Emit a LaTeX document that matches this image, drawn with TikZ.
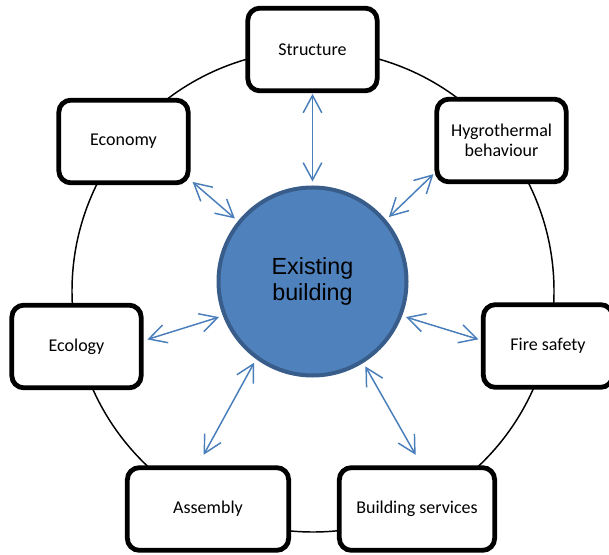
\documentclass[tikz,border=0pt]{standalone}
\usepackage{fontspec}
\setmainfont{Carlito}
\newfontfamily\hubfont{Liberation Sans}
\usetikzlibrary{arrows.meta}
\definecolor{hubblue}{HTML}{4F81BD}
\definecolor{hubedge}{HTML}{385D8A}
\definecolor{spokeblue}{HTML}{4A7EBB}
\begin{document}
\begin{tikzpicture}[x=0.75pt, y=-0.75pt,
	aspect/.style={draw, line width=3.6pt, rounded corners=9pt, fill=white, align=center,
		minimum width=97pt, minimum height=62pt, font=\fontsize{13.5}{15}\selectfont},
	hub/.style={draw=hubedge, line width=3pt, fill=hubblue, circle, inner sep=0pt,
		minimum size=141pt, align=center, font=\hubfont\fontsize{17.5}{19.5}\selectfont},
	spoke/.style={draw=spokeblue, line width=1.1pt,
		{Straight Barb[length=13pt, width=14pt]}-{Straight Barb[length=13pt, width=14pt]},
		shorten <=3pt}]
				\useasboundingbox (0,0) rectangle (609,555);
				\coordinate (O) at (313, 291);
				\draw[line width=1.1pt] (O) circle[radius=241];
				\node[hub] (Exist) at (312.5, 281.5) {Existing\\building};
				\node[aspect] (Struct) at (312.5, 49.5) {Structure};
				\node[aspect] (Hygro) at (501.5, 140.5) {Hygrothermal\\behaviour};
				\node[aspect] (Econ) at (123.5, 141.5) {Economy};
				\node[aspect] (Ecol) at (76.5, 346.5) {Ecology};
				\node[aspect] (Fire) at (548, 346) {Fire safety};
				\node[aspect, minimum width=121pt] (Assem) at (208, 509) {Assembly};
				\node[aspect, minimum width=116.5pt] (Serv) at (417, 509) {Building services};
				\draw[spoke, shorten >=0.5pt] (Exist.90) -- (Struct.south);
				\draw[spoke, shorten >=2pt] (Exist.141.5) -- (Econ.-30);
				\draw[spoke, shorten >=1pt] (Exist.40) -- (Hygro.206);
				\draw[spoke, shorten >=3pt] (Exist.201) -- (Ecol.5);
				\draw[spoke, shorten >=2pt] (Exist.339) -- (Fire.175);
				\draw[spoke, shorten >=9pt] (Exist.234.5) -- (Assem.103);
				\draw[spoke, shorten >=9pt] (Exist.302) -- (Serv.84);
			\end{tikzpicture}
\end{document}
